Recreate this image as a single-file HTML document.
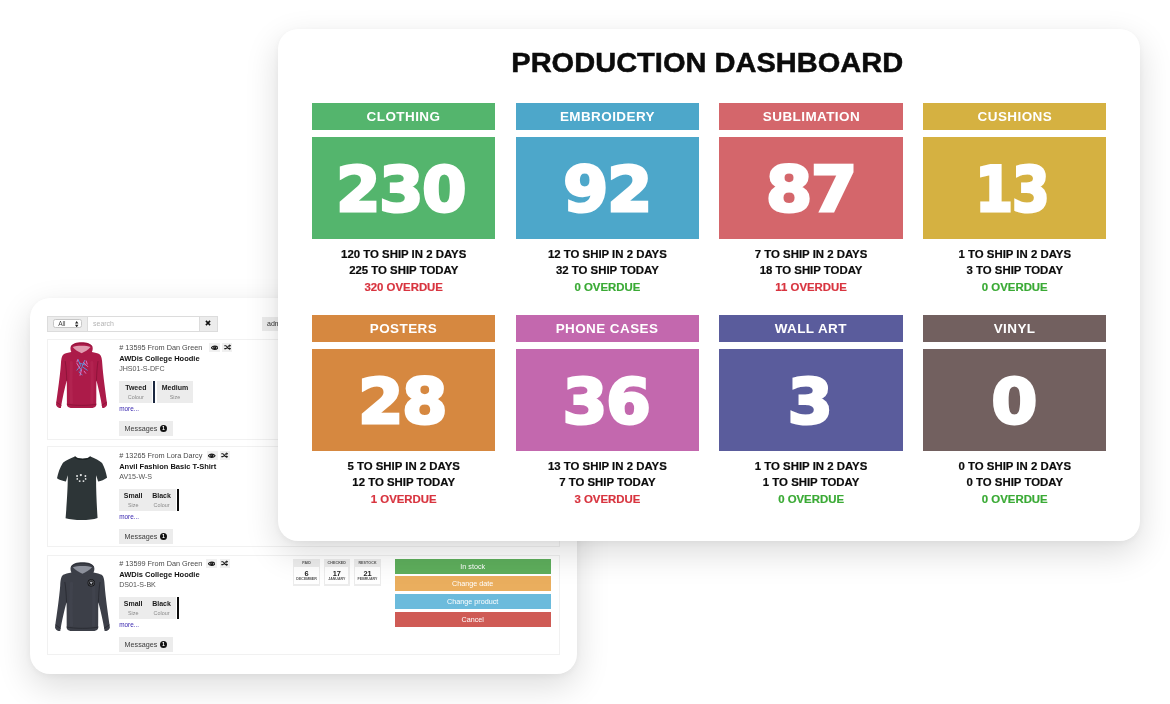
<!DOCTYPE html>
<html lang="en">
<head>
<meta charset="utf-8">
<title>Production Dashboard</title>
<style>
*{box-sizing:border-box;margin:0;padding:0}
html,body{width:1170px;height:704px;overflow:hidden;background:#fff}
body{position:relative;font-family:"Liberation Sans",sans-serif;color:#111}
.abs{position:absolute}
/* ---------- dashboard card ---------- */
#dash{position:absolute;left:278px;top:29px;width:862px;height:512px;background:#fff;border-radius:20px;
 box-shadow:0 12px 34px rgba(0,0,0,.14),0 2px 6px rgba(0,0,0,.04);z-index:5}
#dash h1{position:absolute;left:0;width:862px;top:15px;height:36px;line-height:36px;text-align:center;font-size:28.2px;font-weight:bold;color:#0b0b0b;white-space:nowrap}
#dash h1 span{display:inline-block;transform-origin:50% 50%;transform:translateX(-2px) scaleX(1.03);-webkit-text-stroke:.5px #0b0b0b}
.tile{position:absolute;width:183.4px;height:200px}
.th{position:absolute;left:0;top:0;width:100%;height:26.8px;color:#fff;font-weight:bold;font-size:12.6px;line-height:28.6px;text-align:center;white-space:nowrap}
.th span{display:inline-block;transform:scaleX(1.07);letter-spacing:.4px}
.tn{position:absolute;left:0;top:34.2px;width:100%;height:101.8px;color:#fff;text-align:center;white-space:nowrap;
 font-family:"DejaVu Sans","Liberation Sans",sans-serif;font-weight:bold;font-size:62px;line-height:106.2px}
.tn span{display:inline-block;transform:scaleX(.93);letter-spacing:-1px;-webkit-text-stroke:3px #fff;paint-order:stroke fill}
.tl{position:absolute;left:-20px;right:-20px;height:16px;line-height:16px;text-align:center;font-weight:bold;font-size:11.4px;color:#0b0b0b;white-space:nowrap}
.tl span{display:inline-block;-webkit-text-stroke:.2px currentColor}
.l1{top:142.5px}.l2{top:159.2px}.l3{top:175.8px}
.tl.r{color:#d8343f}.tl.g{color:#3aaa35}
/* ---------- orders card ---------- */
#orders{position:absolute;left:30px;top:298px;width:547px;height:375.5px;background:#fff;border-radius:20px;
 box-shadow:0 12px 34px rgba(0,0,0,.14),0 2px 6px rgba(0,0,0,.04);z-index:1}
#orders div{position:absolute;white-space:nowrap}
.sb{left:17px;top:17.6px;width:170.8px;height:16.6px;box-shadow:inset 0 0 0 1px #dcdcdc;background:#fff}
.sel{left:1px;top:1px;width:39.8px;height:14.6px;background:#ececec;border-right:1px solid #dcdcdc}
.selbox{left:5.2px;top:2.7px;width:28.6px;height:9.2px;border:1px solid #c6c6c6;border-radius:2.4px;background:#fff}
.selbox span{position:absolute;left:4px;top:0;font-size:6.6px;line-height:7.4px;color:#444}
.selbox svg{position:absolute;right:2.2px;top:.6px}
.inp{left:46px;top:1px;height:14.6px;line-height:14.8px;font-size:7px;color:#b4b4b4}
.xb{right:1px;top:1px;width:18.2px;height:14.6px;background:#ececec;border-left:1px solid #dcdcdc}
.xb svg{position:absolute;left:5.8px;top:3.6px}
.adm{left:232px;top:18.6px;width:40px;height:14px;background:#ececec;font-size:7px;line-height:14px;padding-left:5px;color:#333}
.it{left:17px;width:513px;height:100px;box-shadow:inset 0 0 0 1px #f1f1f1;background:#fff}
.t1{font-size:7.3px;line-height:9px;color:#4a4a4a}
.t2{font-size:7.5px;line-height:9px;font-weight:bold;color:#111}
.t3{font-size:7.1px;line-height:9px;color:#555}
.ic{width:10.8px;height:9.4px;background:#f0f0f0}
.ic svg{position:absolute;left:1.5px;top:1.7px}
.at{top:41.7px;height:22.2px;background:#ececec;text-align:center}
.at b{position:absolute;left:0;right:0;top:3.6px;font-size:7px;line-height:8px;color:#1a1a1a}
.at i{position:absolute;left:0;right:0;top:13.7px;font-size:5.4px;line-height:6px;font-style:normal;color:#8a8a8a}
.bar{top:41.7px;width:2.4px;height:22.2px}
.more{font-size:6.4px;line-height:8px;color:#3a28b0}
.msg{width:53.4px;height:15.3px;background:#ececec}
.msg span{position:absolute;left:5.2px;top:3.4px;font-size:7.2px;line-height:9px;color:#3a3a3a}
.msg em{position:absolute;left:40.4px;top:4.1px;width:7.6px;height:7.6px;border-radius:50%;background:#111;color:#fff;font-style:normal;font-weight:bold;font-size:5.4px;line-height:7.8px;text-align:center}
.db{top:3.6px;width:27px;height:27px;background:#ececec}
.dh{left:0;right:0;top:2.8px;text-align:center;font-size:3.6px;line-height:5px;font-weight:bold;color:#555;letter-spacing:.1px}
.dw{left:1.4px;right:1.4px;top:8.6px;height:17px;background:#fff}
.dw b{position:absolute;left:0;right:0;top:3.2px;text-align:center;font-size:7.4px;line-height:8px;color:#222}
.dw i{position:absolute;left:-2px;right:-2px;top:10.2px;text-align:center;font-size:3.6px;line-height:4px;font-style:normal;font-weight:bold;color:#555}
.btn{left:347.8px;width:155.8px;height:15.2px;color:#fff;font-size:7.2px;line-height:15.2px;text-align:center}
</style>
</head>
<body>
<div id="orders">
<div class="sb"><div class="sel"><div class="selbox"><span>All</span><svg width="3.4" height="6.4" viewBox="0 0 8 15"><path d="M4,0 L8,6 H0 Z M4,15 L8,9 H0 Z" fill="#222"/></svg></div></div><div class="inp">search</div><div class="xb"><svg width="6" height="6" viewBox="0 0 10 10"><path d="M1.5,1.5 L8.5,8.5 M8.5,1.5 L1.5,8.5" stroke="#111" stroke-width="2.6"/></svg></div></div>
<div class="adm">admin</div>
<div class="it" style="top:41px;height:101px"><div style="left:0;top:0px">
<svg class="abs" style="left:8.8px;top:2.7px" width="51.2" height="66.6" viewBox="0 0 100 130" preserveAspectRatio="none">
<path d="M50,0.5 C40,0.5 31,3 29,9 C27.5,13 28.5,17 30,19.5 C24,20.5 18,22 15,24 C11,27 10,34 9.5,44 C8,66 3,100 0,122 C1,126 5,129 9.5,129.5 C12,112 17,90 21,75 C21.5,90 21,110 21.5,124 C23,129 30,130 50,130 C70,130 77,129 78.5,124 C79,110 78.5,90 79,75 C83,90 88,112 90.5,129.5 C95,129 99,126 100,122 C97,100 92,66 90.5,44 C90,34 89,27 85,24 C82,22 76,20.5 70,19.5 C71.5,17 72.5,13 71,9 C69,3 60,0.5 50,0.5 Z" fill="#ac1b49"/>
<path d="M32.5,10 C40,6.5 60,6.5 67.5,10 C63,15 56,20 50,22 C44,20 37,15 32.5,10 Z" fill="#e09cb0"/>
<path d="M30,19 C36,17.5 45,20.5 50,24 C55,20.5 64,17.5 70,19 C66,24 58,27.5 50,28 C42,27.5 34,24 30,19 Z" fill="#ac1b49"/>
<path d="M29,9 C33,4 42,2.5 50,2.5 C58,2.5 67,4 71,9" stroke="#7a0f2f" stroke-width="1.6" fill="none" opacity=".6"/>
<path d="M21,75 C20.5,62 20,50 18,38 M79,75 C79.5,62 80,50 82,38 M21.5,121.5 C35,124.5 65,124.5 78.5,121.5 M1,117.5 L10,123.5 M99,117.5 L90,123.5" stroke="#7a0f2f" stroke-width="1.5" fill="none" stroke-linecap="round" opacity=".8"/>
<path d="M30,40 C29,60 29,95 30,118 M70,40 C71,60 71,95 70,118" stroke="#c8406a" stroke-width="6" fill="none" stroke-linecap="round" opacity=".22"/>
<g stroke-width="1.9" fill="none" stroke-linecap="round"><path d="M43,34 L48,46 L41,55 M56,36 L51,48 L61,55 M46,41 L57,45 M45,59 L51,64 M50,50 L47,57" stroke="#5a8fd8"/><path d="M41,42 L47,52 M54,40 L62,48 M50,54 L47,65 M59,37 L61,43 M42,35 L41,39 M55,57 L58,61" stroke="#dc78c4"/></g>
</svg>
<div class="t1" style="left:72.2px;top:4.4px"># 13595 From Dan Green</div>
<div class="ic" style="left:162.0px;top:3.9px"><svg width="7.4" height="5.4" viewBox="0 0 22 16"><path d="M1,8 C5,1.5 17,1.5 21,8 C17,14.5 5,14.5 1,8 Z" fill="none" stroke="#1a1a1a" stroke-width="3.4"/><circle cx="11" cy="8" r="5" fill="#1a1a1a"/><circle cx="9.4" cy="6.4" r="1.3" fill="#eee"/></svg></div>
<div class="ic" style="left:175.2px;top:3.9px;width:10px"><svg width="7.2" height="6.4" viewBox="0 0 24 20" style="top:1.3px;left:1.4px"><path d="M1,5 H6 C10,5 12,15 17,15 H20 M1,15 H6 C8,15 9,13.5 10,12 M13.5,8 C14.5,6.5 15.5,5 17,5 H20" fill="none" stroke="#1a1a1a" stroke-width="3.8"/><path d="M18,0 L24,5 L18,10 Z M18,10 L24,15 L18,20 Z" fill="#1a1a1a"/></svg></div>
<div class="t2" style="left:72.2px;top:15.4px">AWDis College Hoodie</div>
<div class="t3" style="left:72.2px;top:25.6px">JHS01-S-DFC</div>
<div class="at" style="left:72.4px;width:32.8px"><b>Tweed</b><i>Colour</i></div>
<div class="bar" style="left:105.8px;background:#1b2840"></div>
<div class="at" style="left:110.3px;width:35.3px"><b>Medium</b><i>Size</i></div>
<div class="more" style="left:72.2px;top:66px">more...</div>
<div class="msg" style="left:72.4px;top:81.6px"><span>Messages</span><em>1</em></div>

</div></div>
<div class="it" style="top:148px;height:101px"><div style="left:0;top:1px">
<svg class="abs" style="left:10.3px;top:8.6px" width="50.1" height="64" viewBox="100 85 420 530" preserveAspectRatio="none">
<path d="M250,90 C270,112 360,112 380,90 C420,105 455,125 478,142 C500,180 512,225 520,265 C498,282 470,292 445,296 L428,245 C426,330 432,480 440,598 C380,620 240,620 172,600 C182,480 192,330 190,245 L175,296 C150,292 120,284 100,270 C108,225 125,180 150,140 C175,122 210,105 250,90 Z" fill="#2d3537"/>
<path d="M250,90 C270,122 360,122 380,90" stroke="#1c2223" stroke-width="9" fill="none"/>
<g fill="#e8eaea"><circle cx="300" cy="243" r="9"/><circle cx="268" cy="250" r="8"/><circle cx="338" cy="250" r="8"/><circle cx="270" cy="275" r="7"/><circle cx="340" cy="275" r="7"/><circle cx="290" cy="293" r="8"/><circle cx="322" cy="293" r="8"/></g>
</svg>
<div class="t1" style="left:72.2px;top:4.4px"># 13265 From Lora Darcy</div>
<div class="ic" style="left:159.8px;top:3.9px"><svg width="7.4" height="5.4" viewBox="0 0 22 16"><path d="M1,8 C5,1.5 17,1.5 21,8 C17,14.5 5,14.5 1,8 Z" fill="none" stroke="#1a1a1a" stroke-width="3.4"/><circle cx="11" cy="8" r="5" fill="#1a1a1a"/><circle cx="9.4" cy="6.4" r="1.3" fill="#eee"/></svg></div>
<div class="ic" style="left:173.0px;top:3.9px;width:10px"><svg width="7.2" height="6.4" viewBox="0 0 24 20" style="top:1.3px;left:1.4px"><path d="M1,5 H6 C10,5 12,15 17,15 H20 M1,15 H6 C8,15 9,13.5 10,12 M13.5,8 C14.5,6.5 15.5,5 17,5 H20" fill="none" stroke="#1a1a1a" stroke-width="3.8"/><path d="M18,0 L24,5 L18,10 Z M18,10 L24,15 L18,20 Z" fill="#1a1a1a"/></svg></div>
<div class="t2" style="left:72.2px;top:15.4px">Anvil Fashion Basic T-Shirt</div>
<div class="t3" style="left:72.2px;top:25.6px">AV15-W-S</div>
<div class="at" style="left:72.4px;width:27.5px"><b>Small</b><i>Size</i></div>
<div class="at" style="left:99.9px;width:29.3px"><b>Black</b><i>Colour</i></div>
<div class="bar" style="left:129.7px;background:#0c0c0c"></div>
<div class="more" style="left:72.2px;top:66px">more...</div>
<div class="msg" style="left:72.4px;top:81.6px"><span>Messages</span><em>1</em></div>

</div></div>
<div class="it" style="top:257px;height:100px"><div style="left:0;top:0px">
<svg class="abs" style="left:8.3px;top:6.5px" width="54.9" height="69.7" viewBox="0 0 100 130" preserveAspectRatio="none">
<path d="M50,0.5 C40,0.5 31,3 29,9 C27.5,13 28.5,17 30,19.5 C24,20.5 18,22 15,24 C11,27 10,34 9.5,44 C8,66 3,100 0,122 C1,126 5,129 9.5,129.5 C12,112 17,90 21,75 C21.5,90 21,110 21.5,124 C23,129 30,130 50,130 C70,130 77,129 78.5,124 C79,110 78.5,90 79,75 C83,90 88,112 90.5,129.5 C95,129 99,126 100,122 C97,100 92,66 90.5,44 C90,34 89,27 85,24 C82,22 76,20.5 70,19.5 C71.5,17 72.5,13 71,9 C69,3 60,0.5 50,0.5 Z" fill="#3c3f48"/>
<path d="M32.5,10 C40,6.5 60,6.5 67.5,10 C63,15 56,20 50,22 C44,20 37,15 32.5,10 Z" fill="#8d919c"/>
<path d="M30,19 C36,17.5 45,20.5 50,24 C55,20.5 64,17.5 70,19 C66,24 58,27.5 50,28 C42,27.5 34,24 30,19 Z" fill="#3c3f48"/>
<path d="M29,9 C33,4 42,2.5 50,2.5 C58,2.5 67,4 71,9" stroke="#202228" stroke-width="1.6" fill="none" opacity=".6"/>
<path d="M21,75 C20.5,62 20,50 18,38 M79,75 C79.5,62 80,50 82,38 M21.5,121.5 C35,124.5 65,124.5 78.5,121.5 M1,117.5 L10,123.5 M99,117.5 L90,123.5" stroke="#202228" stroke-width="1.5" fill="none" stroke-linecap="round" opacity=".8"/>
<path d="M30,40 C29,60 29,95 30,118 M70,40 C71,60 71,95 70,118" stroke="#50545e" stroke-width="6" fill="none" stroke-linecap="round" opacity=".22"/>
<circle cx="66" cy="39" r="6.6" fill="#0c0c0e"/><circle cx="66" cy="39" r="4.9" fill="none" stroke="#9a9da6" stroke-width=".8"/><path d="M63,36.8 L69,36.8 L66,42.6 Z" fill="#b0b3bb"/>
</svg>
<div class="t1" style="left:72.2px;top:4.4px"># 13599 From Dan Green</div>
<div class="ic" style="left:159.4px;top:3.9px"><svg width="7.4" height="5.4" viewBox="0 0 22 16"><path d="M1,8 C5,1.5 17,1.5 21,8 C17,14.5 5,14.5 1,8 Z" fill="none" stroke="#1a1a1a" stroke-width="3.4"/><circle cx="11" cy="8" r="5" fill="#1a1a1a"/><circle cx="9.4" cy="6.4" r="1.3" fill="#eee"/></svg></div>
<div class="ic" style="left:172.6px;top:3.9px;width:10px"><svg width="7.2" height="6.4" viewBox="0 0 24 20" style="top:1.3px;left:1.4px"><path d="M1,5 H6 C10,5 12,15 17,15 H20 M1,15 H6 C8,15 9,13.5 10,12 M13.5,8 C14.5,6.5 15.5,5 17,5 H20" fill="none" stroke="#1a1a1a" stroke-width="3.8"/><path d="M18,0 L24,5 L18,10 Z M18,10 L24,15 L18,20 Z" fill="#1a1a1a"/></svg></div>
<div class="t2" style="left:72.2px;top:15.4px">AWDis College Hoodie</div>
<div class="t3" style="left:72.2px;top:25.6px">DS01-S-BK</div>
<div class="at" style="left:72.4px;width:27.5px"><b>Small</b><i>Size</i></div>
<div class="at" style="left:99.9px;width:29.3px"><b>Black</b><i>Colour</i></div>
<div class="bar" style="left:129.7px;background:#0c0c0c"></div>
<div class="more" style="left:72.2px;top:66px">more...</div>
<div class="msg" style="left:72.4px;top:81.6px"><span>Messages</span><em>1</em></div>
<div class="db" style="left:246px;width:27.2px"><div class="dh">PAID</div><div class="dw"><b>6</b><i>DECEMBER</i></div></div><div class="db" style="left:277px;width:25.6px"><div class="dh">CHECKED</div><div class="dw"><b>17</b><i>JANUARY</i></div></div><div class="db" style="left:307px;width:27px"><div class="dh">RESTOCK</div><div class="dw"><b>21</b><i>FEBRUARY</i></div></div><div class="btn" style="top:3.5px;background:#5eae5c">In stock</div><div class="btn" style="top:21.2px;background:#eaae5e">Change date</div><div class="btn" style="top:39px;background:#6cbbdc">Change product</div><div class="btn" style="top:56.6px;background:#cf5b55">Cancel</div>
</div></div>
</div>
<div id="dash">
<h1><span>PRODUCTION DASHBOARD</span></h1>
<div class="tile" style="left:34.0px;top:74.0px">
<div class="th" style="background:#54b56d"><span>CLOTHING</span></div>
<div class="tn" style="background:#54b56d"><span style="transform:translateX(-2.4px) scaleX(1.022)">230</span></div>
<div class="tl l1"><span>120 TO SHIP IN 2 DAYS</span></div>
<div class="tl l2"><span>225 TO SHIP TODAY</span></div>
<div class="tl l3 r"><span>320 OVERDUE</span></div>
</div>
<div class="tile" style="left:237.7px;top:74.0px">
<div class="th" style="background:#4da7ca"><span>EMBROIDERY</span></div>
<div class="tn" style="background:#4da7ca"><span style="transform:translateX(0.1px) scaleX(1.042)">92</span></div>
<div class="tl l1"><span>12 TO SHIP IN 2 DAYS</span></div>
<div class="tl l2"><span>32 TO SHIP TODAY</span></div>
<div class="tl l3 g"><span>0 OVERDUE</span></div>
</div>
<div class="tile" style="left:441.4px;top:74.0px">
<div class="th" style="background:#d4666b"><span>SUBLIMATION</span></div>
<div class="tn" style="background:#d4666b"><span style="transform:translateX(-0.2px) scaleX(1.069)">87</span></div>
<div class="tl l1"><span>7 TO SHIP IN 2 DAYS</span></div>
<div class="tl l2"><span>18 TO SHIP TODAY</span></div>
<div class="tl l3 r"><span>11 OVERDUE</span></div>
</div>
<div class="tile" style="left:645.1px;top:74.0px">
<div class="th" style="background:#d5b141"><span>CUSHIONS</span></div>
<div class="tn" style="background:#d5b141"><span style="transform:translateX(-3.1px) scaleX(0.875)">13</span></div>
<div class="tl l1"><span>1 TO SHIP IN 2 DAYS</span></div>
<div class="tl l2"><span>3 TO SHIP TODAY</span></div>
<div class="tl l3 g"><span>0 OVERDUE</span></div>
</div>
<div class="tile" style="left:34.0px;top:286.3px">
<div class="th" style="background:#d68840"><span>POSTERS</span></div>
<div class="tn" style="background:#d68840"><span style="transform:translateX(-1.8px) scaleX(1.045)">28</span></div>
<div class="tl l1"><span>5 TO SHIP IN 2 DAYS</span></div>
<div class="tl l2"><span>12 TO SHIP TODAY</span></div>
<div class="tl l3 r"><span>1 OVERDUE</span></div>
</div>
<div class="tile" style="left:237.7px;top:286.3px">
<div class="th" style="background:#c368ae"><span>PHONE CASES</span></div>
<div class="tn" style="background:#c368ae"><span style="transform:translateX(-1.0px) scaleX(1.030)">36</span></div>
<div class="tl l1"><span>13 TO SHIP IN 2 DAYS</span></div>
<div class="tl l2"><span>7 TO SHIP TODAY</span></div>
<div class="tl l3 r"><span>3 OVERDUE</span></div>
</div>
<div class="tile" style="left:441.4px;top:286.3px">
<div class="th" style="background:#5a5c9c"><span>WALL ART</span></div>
<div class="tn" style="background:#5a5c9c"><span style="transform:translateX(-1.3px) scaleX(1.043)">3</span></div>
<div class="tl l1"><span>1 TO SHIP IN 2 DAYS</span></div>
<div class="tl l2"><span>1 TO SHIP TODAY</span></div>
<div class="tl l3 g"><span>0 OVERDUE</span></div>
</div>
<div class="tile" style="left:645.1px;top:286.3px">
<div class="th" style="background:#72605f"><span>VINYL</span></div>
<div class="tn" style="background:#72605f"><span style="transform:translateX(-1.2px) scaleX(1.060)">0</span></div>
<div class="tl l1"><span>0 TO SHIP IN 2 DAYS</span></div>
<div class="tl l2"><span>0 TO SHIP TODAY</span></div>
<div class="tl l3 g"><span>0 OVERDUE</span></div>
</div>
</div>
</body>
</html>
